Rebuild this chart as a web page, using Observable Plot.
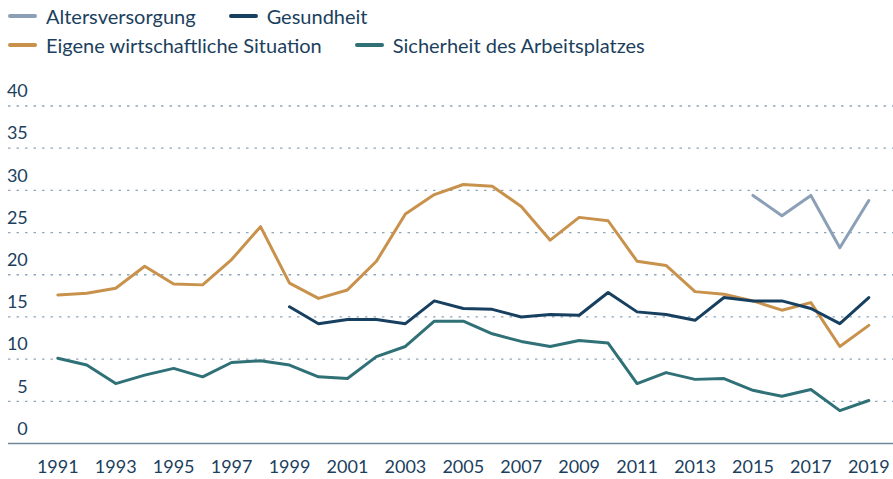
<!DOCTYPE html>
<html>
<head>
<meta charset="utf-8">
<script src="https://cdn.jsdelivr.net/npm/d3@7"></script>
<script src="https://cdn.jsdelivr.net/npm/@observablehq/plot@0.6"></script>
<style>
  html, body { margin: 0; padding: 0; background: #fff; }
  body { width: 893px; height: 479px; overflow: hidden; font-family: Lato, "Noto Sans", sans-serif; color: #1c3f5e; }
  #legend { position: relative; height: 62px; font-size: 20px; }
  .row { position: absolute; left: 8px; display: flex; align-items: center; height: 24px; }
  .item { display: flex; align-items: center; margin-right: 33px; }
  .sw { width: 29px; height: 3.5px; border-radius: 2px; margin-right: 9px; }
  #chart svg { display: block; }
</style>
</head>
<body>
<div id="legend"></div>
<div id="chart"></div>
<script>
// ---- data ----
const years = [1991,1992,1993,1994,1995,1996,1997,1998,1999,2000,2001,2002,2003,2004,2005,2006,2007,2008,2009,2010,2011,2012,2013,2014,2015,2016,2017,2018,2019];
const eigeneSituation = [17.6,17.8,18.4,21.0,18.9,18.8,21.8,25.7,19.0,17.2,18.2,21.6,27.2,29.5,30.7,30.5,28.1,24.1,26.8,26.4,21.6,21.1,18.0,17.7,16.9,15.8,16.7,11.5,14.0];
const gesundheit = [null,null,null,null,null,null,null,null,16.2,14.2,14.7,14.7,14.2,16.9,16.0,15.9,15.0,15.3,15.2,17.9,15.6,15.3,14.6,17.3,16.9,16.9,16.0,14.2,17.3];
const altersversorgung = [null,null,null,null,null,null,null,null,null,null,null,null,null,null,null,null,null,null,null,null,null,null,null,null,29.4,27.0,29.4,23.2,28.8];
const sicherheitArbeitsplatz = [10.1,9.3,7.1,8.1,8.9,7.9,9.6,9.8,9.3,7.9,7.7,10.3,11.5,14.5,14.5,13.0,12.1,11.5,12.2,11.9,7.1,8.4,7.6,7.7,6.3,5.6,6.4,3.9,5.1];
const yTicks = [0,5,10,15,20,25,30,35,40];
const xTicks = [1991,1993,1995,1997,1999,2001,2003,2005,2007,2009,2011,2013,2015,2017,2019];
const seriesNames = ["Altersversorgung","Gesundheit","Eigene wirtschaftliche Situation","Sicherheit des Arbeitsplatzes"];
const seriesColors = ["#8ba0b6","#173f5f","#c8924c","#2f7176"];

// ---- legend ----
const legend = document.getElementById("legend");
const rows = [[0,1],[2,3]];
const rowTops = [4, 33];
rows.forEach((r, ri) => {
  const row = document.createElement("div");
  row.className = "row";
  row.style.top = rowTops[ri] + "px";
  r.forEach(i => {
    const it = document.createElement("div");
    it.className = "item";
    it.innerHTML = `<span class="sw" style="background:${seriesColors[i]}"></span><span>${seriesNames[i]}</span>`;
    row.appendChild(it);
  });
  legend.appendChild(row);
});

// ---- chart ----
const toRows = vals => years.map((yr, i) => ({year: yr, value: vals[i]}));
const W = 893, H = 417;
const mL = 57.3, mR = 24.7, mT = 43.5, mB = 36;

const chart = Plot.plot({
  width: W,
  height: H,
  marginLeft: mL,
  marginRight: mR,
  marginTop: mT,
  marginBottom: mB,
  style: {fontFamily: "Lato, 'Noto Sans', sans-serif", fontSize: "18px", color: "#1c3f5e", background: "#fff"},
  x: {type: "linear", domain: [1991, 2019]},
  y: {domain: [0, 40]},
  marks: [
    Plot.ruleY(yTicks.filter(d => d > 0), {stroke: "#8fa6bf", strokeWidth: 1.3, strokeDasharray: "2.5,6", insetLeft: -(mL - 8), insetRight: -mR}),
    Plot.ruleY([0], {stroke: "#6f8799", strokeWidth: 1.5, insetLeft: -(mL - 8), insetRight: -mR}),
    Plot.axisY({ticks: yTicks, tickSize: 0, tickPadding: 0, dx: -30, dy: -14.5, fill: "#1c3f5e", label: null, fontSize: 18}),
    Plot.axisX({ticks: xTicks, tickFormat: d => String(d), tickSize: 0, tickPadding: 17, fill: "#1c3f5e", label: null, fontSize: 18}),
    Plot.line(toRows(eigeneSituation), {x: "year", y: "value", stroke: seriesColors[2], strokeWidth: 3}),
    Plot.line(toRows(sicherheitArbeitsplatz), {x: "year", y: "value", stroke: seriesColors[3], strokeWidth: 3}),
    Plot.line(toRows(gesundheit), {x: "year", y: "value", stroke: seriesColors[1], strokeWidth: 3}),
    Plot.line(toRows(altersversorgung), {x: "year", y: "value", stroke: seriesColors[0], strokeWidth: 3})
  ]
});
document.getElementById("chart").appendChild(chart);
</script>
</body>
</html>
